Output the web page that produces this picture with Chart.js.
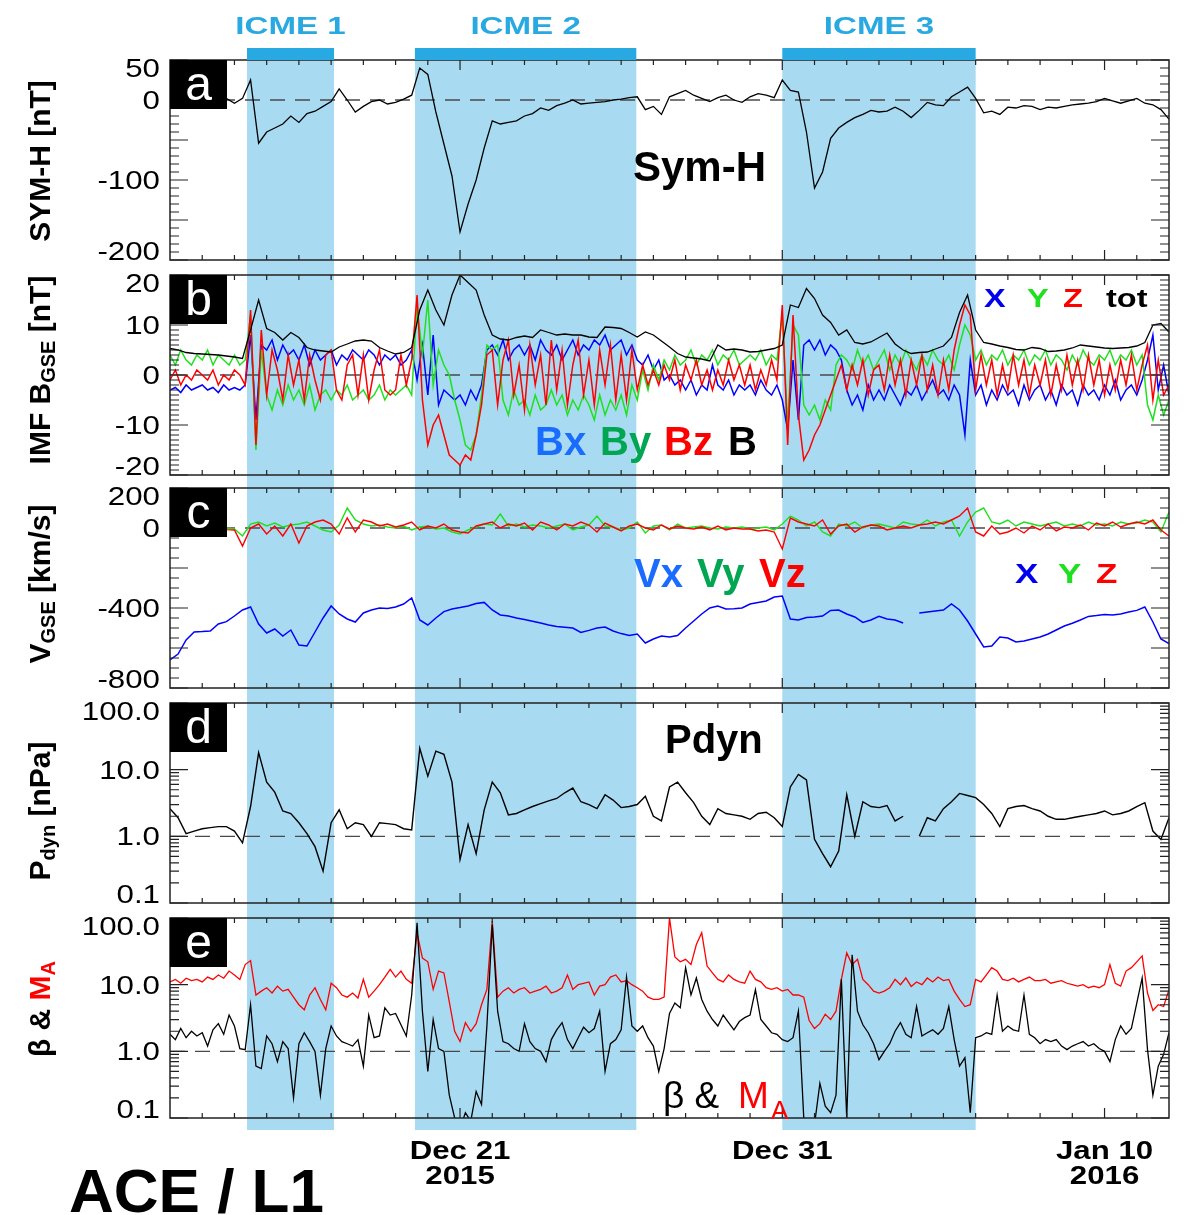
<!DOCTYPE html>
<html>
<head>
<meta charset="utf-8">
<title>ACE / L1</title>
<script src="https://cdn.jsdelivr.net/npm/chart.js@4.4.0/dist/chart.umd.min.js"></script>
<style>
  html, body { margin: 0; padding: 0; background: #fff; }
  #wrap { position: relative; width: 1184px; height: 1215px; overflow: hidden; }
  #wrap canvas { position: absolute; left: 0; }
</style>
</head>
<body>
<div id="wrap">
  <canvas id="pa" width="1184" height="267" style="top:0px"></canvas>
  <canvas id="pb" width="1184" height="214" style="top:267px"></canvas>
  <canvas id="pc" width="1184" height="215" style="top:481px"></canvas>
  <canvas id="pd" width="1184" height="213" style="top:696px"></canvas>
  <canvas id="pe" width="1184" height="306" style="top:909px"></canvas>
</div>
<script>
// x axis = days since 2015-12-12 00:00 (0 .. 31)
const icmeNames = ['ICME 1', 'ICME 2', 'ICME 3'];
const icmeStart = [2.39, 7.6, 19.0];
const icmeEnd = [5.09, 14.47, 25.0];

const dateTickDays = [9, 19, 29];
const dateTickLine1 = ['Dec 21', 'Dec 31', 'Jan 10'];
const dateTickLine2 = ['2015', '', '2016'];

// y tick labels per panel
const symTicks = [50, 0, -100, -200];
const bTicks = [20, 10, 0, -10, -20];
const vTicks = [200, 0, -400, -800];
const logTicks = [100, 10, 1, 0.1];
const logTickText = ['100.0', '10.0', '1.0', '0.1'];

// 6-hour grid (125 points) and 4-hour grid (187 points)
const t6 = Array.from({length: 125}, (_, i) => i * 0.25);
const t4 = Array.from({length: 187}, (_, i) => i / 6);

// panel a - SYM-H [nT], 6h
const symH = [2,3,1,4, 2,3,0,2, -4,2,25,-54, -40,-35,-30,-20, -28,-17,-14,-8, -2,14,0,-15,
  -8,-2,0,-5, -3,1,6,40, 32,-15,-55,-95, -165,-130,-100,-60, -26,-30,-28,-26, -20,-17,-10,-13,
  -7,-4,0,-5, -4,-3,-2,0, 1,3,4,-12, -8,-18,4,8, 12,6,2,-2, 3,6,0,-3, 4,8,6,3,
  25,12,10,-40, -110,-90,-48,-35, -28,-22,-18,-13, -15,-14,-9,-14, -22,-13,-3,-6, -7,4,10,16,
  2,-16,-14,-18, -9,-10,-7,-8, -12,-9,-10,-8, -6,-5,-4,-2, 2,-1,-4,-1, 2,-4,-6,-12, -24];

// panel b - IMF [nT]; total on 6h grid, components on 4h grid
const bTot = [5.3,5.0,4.5,4.3, 4.2,4.1,4.0,3.8, 3.6,3.3,9,15, 9.3,8.5,7,8.5, 7.5,5.5,5,4.8,
  4.6,5.6,6.2,6.8, 7,6.8,5.5,4.8, 4.2,4.5,5.5,13, 17,13,10,16, 20,18.5,17,12, 8,7.2,7,7.5,
  7.8,7.5,9,8.5, 8,8.2,8,8, 7.6,7.5,9.6,9.5, 9.3,8.5,7.6,8.6, 8,6.8,5.6,4.3, 3.6,3.4,3.2,2.8,
  6,5,5.2,5, 4.6,4.7,5,5.3, 6,14,13.5,17.3, 15.3,12,10.5,8, 9,6.5,6.2,6.6, 7.5,8.4,6.2,5,
  4.3,4.5,4.6,5.2, 5.8,7.5,12.5,16, 9,6.5,6.2,5.8, 5.5,5.1,5,5.5, 5.3,4.7,4.8,5,
  5.4,6,5.8,5.6, 5.4,5.3,5.4,5.5, 5.8,6.5,10,10.3, 8.6];
const bx = [
  -3,-2.5,-3.5,-2,-3,-2.5,  -2,-3,-2.5,-3.5,-2,-3,  -2.5,-3,-2,8,-9,6,  5,7,3,6,4,5,
  3,6,2,5,3,4,  5,2,4,3,5,4,  3,5,4,2,4,3,  4,2,3,5,-1,6,  -4,8,-6,-3,-4,-5,
  -4,-6,-3,-5,-2,5,  6,4,7,3,5,6,  4,6,3,7,5,4,  6,3,5,7,4,6,  5,7,6,8,5,6,
  7,4,6,3,2,4,  1,3,-1,0,-2,-1,  -3,-1,-4,-2,-3,2,  -2,-3,-1,-4,-2,-3,  -2,-4,-1,-3,-4,-2,
  -5,-11,3,-9,6,7,  5,7,4,6,5,3,  -3,-6,-4,-7,-2,-5,  -3,-5,-2,-4,-6,-3,  -4,-2,-5,-3,-1,-4,
  -3,-5,-2,-4,-12,3,  -4,-2,-6,-3,-5,-2,  -4,-3,-6,-2,-5,-3,  -2,-5,-3,-6,-2,-4,
  -3,-6,-2,-4,-3,-5,  -2,-4,-1,-5,-3,-2,  -4,-1,3,8,-3,2,  -4];
const by = [
  4,2,5,3,2,4,  3,5,2,4,3,2,  4,2,3,12,-15,5,  -4,-7,-3,-6,-2,-5,  -3,-6,-2,-7,-4,-3,
  -5,-3,-4,-2,-5,-4,  -3,-5,-4,-2,-5,-3,  -4,-3,-2,-4,14,4,  15,-2,5,2,0,-5,
  -9,-14,-15,-12,-4,6,  5,6,-5,-8,-3,-6,  -5,-8,-4,-7,-6,-3,  -6,-4,-8,-5,-7,-4,
  -6,-9,-4,-8,-5,-7,  -4,-8,-2,-5,1,-3,  2,-1,3,1,4,2,  3,5,2,4,3,5,  2,4,3,5,2,3,
  4,3,5,2,4,3,  12,-10,10,8,-6,-8,  -6,-9,-5,-7,2,4,  3,1,5,2,4,1,  3,5,1,4,2,5,
  3,1,4,2,5,3,  2,4,1,6,10,8,  3,5,2,4,3,5,  2,4,3,5,2,4,  3,5,2,4,3,1,
  4,2,5,3,2,4,  3,5,2,4,3,5,  2,4,-6,-9,-4,-8,  -5];
const bz = [
  -1,1,-2,0,-1,1,  0,-1,1,-2,0,-1,  1,0,-2,13,-14,9,  -4,5,1,-5,4,-2,  3,-5,4,-1,-5,4,
  5,-3,-5,2,4,-4,  4,-5,1,5,-3,-4,  -3,4,-2,3,16,-5,  -14,-10,-8,-12,-16,-17,
  -18,-16,-17,-12,-6,4,  5,-6,3,7,-4,2,  -7,6,-2,4,-6,7,  -3,5,-6,2,7,-4,
  3,-6,5,-2,6,-5,  4,-5,5,-3,2,-2,  1,-2,2,-1,3,-3,  2,-1,3,-2,1,-3,  1,-2,3,-1,2,-2,
  2,-3,1,-2,3,-1,  14,-14,12,-8,-17,-15,  -12,-10,-7,-4,-1,2,  -3,2,-2,3,-4,1,
  2,-3,4,-2,3,-4,  3,-2,4,-3,2,-4,  3,-3,5,10,14,12,  -3,4,-2,3,-4,2,  -3,4,-2,3,-4,2,
  -2,3,-4,2,-3,4,  -2,3,-3,4,-2,3,  -4,2,-3,3,-2,4,  -3,2,6,-5,3,-4,  -2];

// panel c - V GSE [km/s], 6h
const vx = [-660,-630,-560,-520, -518,-515,-480,-468, -440,-410,-395,-480, -525,-505,-540,-510,
  -585,-590,-520,-450, -390,-430,-455,-470, -425,-410,-400,-402, -395,-380,-350,-460,
  -485,-450,-418,-405, -398,-390,-378,-372, -410,-435,-440,-450, -458,-466,-475,-485,
  -492,-496,-500,-522, -512,-500,-495,-515, -528,-538,-530,-575, -555,-540,-545,-538,
  -500,-465,-430,-400, -390,-405,-404,-400, -380,-372,-365,-345, -340,-455,-460,-448,
  -445,-440,-412,-410, -430,-445,-472,-460, -442,-455,-460,-475, null,-425,-420,-415,
  -410,-380,-410,-465, -530,-595,-590,-545, -550,-570,-565,-555, -545,-530,-510,-490,
  -476,-460,-442,-438, -433,-435,-430,-420, -412,-395,-470,-555, -578];
const vy = [5,0,8,-3, 6,2,10,0, -5,-40,20,30, 10,25,5,15, 20,30,10,-10, -20,15,100,40,
  20,10,15,5, 0,10,-10,5, 10,-5,0,-20, -30,-10,5,20, 15,70,10,20, 5,15,10,0,
  10,20,-10,5, 15,60,10,5, -10,0,30,-25, 10,15,-10,20, 0,5,10,0, -5,5,0,5,
  -5,0,5,-10, 20,60,40,10, 30,-20,-40,20, 10,30,0,15, 20,10,0,30, 20,15,40,10,
  30,40,-40,30, 80,100,30,20, 40,10,30,20, 10,20,30,10, 20,10,30,15, 20,10,30,20,
  25,40,30,-20, 80];
const vz = [0,-5,3,-8, 0,-10,-5,-8, -10,-90,0,20, -30,10,-40,20, -75,10,30,40, 20,-30,50,-20,
  40,30,10,20, 5,15,30,-10, 10,0,20,-10, -20,-25,10,20, 30,0,20,10, 25,-10,30,15,
  -10,20,10,30, 15,-20,25,5, -15,10,20,0, -10,15,-5,10, 0,-5,5,-10, 10,-10,0,-5,
  -5,-15,-10,-20, -105,50,30,20, 10,40,-30,10, 20,-20,5,15, 10,-10,0,10, 0,15,20,30,
  20,40,60,100, -20,-40,10,-30, -20,0,-25,10, -10,20,-15,5, 0,15,-10,25, 10,30,5,20,
  30,20,40,-10, -40];

// panel d - Pdyn [nPa], 6h
const pdyn = [2.6,1.9,1.1,1.2, 1.3,1.35,1.4,1.4, 1.2,0.8,2.8,18, 6.5,4.6,2.4,2.2, 1.6,1.1,0.7,0.3,
  1.6,2.5,1.3,1.6, 1.5,1.0,1.6,1.55, 1.5,1.3,1.25,21, 8,19,17,6.5, 0.45,1.5,0.55,2.5,
  6.5,4.5,2.1,2.2, 2.5,2.8,3.1,3.4, 3.7,4.5,5.3,3.3, 3.0,2.6,4.2,3.5, 2.7,2.8,3.0,4.0,
  2.0,1.7,5.5,6.5, 4.5,3.2,2.0,1.5, 2.6,2.2,2.1,2.0, 1.8,2.2,2.3,1.9, 1.4,5.5,8.5,7.0,
  0.9,0.55,0.35,0.6, 4.2,1.0,3.3,2.8, 2.7,2.9,1.7,2.0, null,1.0,1.9,1.7, 2.6,3.3,4.4,4.1,
  3.8,3.0,2.2,1.4, 2.6,2.8,2.9,2.6, 2.4,2.0,1.8,1.8, 1.9,2.0,2.1,2.2, 2.4,2.1,2.2,2.4,
  2.8,3.2,1.2,0.9, 1.9];

// panel e - plasma beta and Alfven Mach number, 4h
const beta = [
  1.8,1.5,2.2,1.6,2.0,1.7,  1.9,1.2,2.1,2.6,1.8,3.5,  2.4,1.1,1.06,5,0.6,0.55,  1.7,1.3,0.7,1.4,1.1,0.2,
  1.3,1.9,1.4,1.0,0.22,1.1,  2.4,1.7,1.4,1.3,1.2,1.5,  0.6,3.5,1.6,1.7,4.5,3.5,  3.7,2.5,1.7,7,85,4,
  0.5,3,1.1,1.0,0.22,0.1,  0.07,0.12,0.09,0.25,0.16,2.4,  80,4,1.4,1.3,1.1,1.0,  2.6,1.4,1.1,1.0,0.7,1.5,
  2.1,2.7,1.5,1.1,1.6,2.3,  1.9,2.2,4,0.5,1.3,1.5,  2.1,13,2.4,2.0,2.4,1.6,  1.2,0.5,1.1,3.7,5.3,4.5,
  18,7,12.6,6,4,3,  2.4,3.5,2.7,2.1,2.8,3.2,  3.5,8.4,3,2.4,1.9,1.8,  1.5,1.4,1.6,4,0.1,0.06,
  0.08,0.33,0.15,0.12,0.22,12,  0.1,28,4,2.5,1.9,1.3,  0.75,1.0,1.3,2.0,2.7,1.8,  1.6,4.7,1.7,1.9,2.1,1.8,
  2.2,4.7,1.5,0.6,0.8,0.12,  1.6,1.7,1.9,1.8,7,2.0,  2.4,2.1,2.0,7,1.8,1.6,  1.3,1.5,1.4,1.5,1.2,1.06,
  1.2,1.3,1.4,1.2,1.3,1.1,  1.0,0.7,1.5,2.4,1.8,2.2,  5.3,12.6,1.06,0.22,0.6,0.9,  1.9];
const machA = [
  11,12,10.5,12.5,11.5,12,  11,13,12,14,12.5,16,  14,12,20,23,7,8,  9,7.5,9.5,8,8.5,6.5,
  5,4.2,7,9,6,4.2,  10.5,9,7,6.5,7.5,6.3,  12,6.5,8,10,13,17,  13,16,12,10.5,60,25,
  22,8.5,16,15,5.5,2,  1.4,2.7,2.0,2.6,5,8.5,  90,6.5,8,9,7.5,8.5,  9,7.5,8,8.5,9.5,7.5,
  8,9,14,8.5,10,10.5,  11,7,9.5,10,13,14,  11,11.5,10,9,8,6.5,  6,6,6.5,100,26,22,
  24,20,40,60,19,15,  12,11,14,12,11,10.5,  16,12,11,9,8.5,9,  8,8.5,7,7,6.5,2.9,
  2.2,2.6,3.6,3,4,12,  30,20,24,12,10,8,  7.5,8,9,12,10,12.6,  9.4,11,10,12.6,11,13,
  11.5,12,8,6,4.7,5,  12,11,14,18,16,12,  11.5,12.5,11,12,13,11.5,  11.5,12,10.5,11,11.5,10.5,
  10,9.5,10,9,9.5,9,  10,20,10.5,9.5,16,18,  22,27,7.5,4.1,5,4.7,  8.4];

const FONT = '"Liberation Sans", Arial, Helvetica, sans-serif';
const SHADE = 'rgb(168, 219, 241)';
const BAR = 'rgb(41, 169, 225)';
const FRAME = '#222';
const TITLE = 'bold 30px ' + FONT;
const TITLE_SUB = 'bold 20px ' + FONT;

const xy = (t, v) => v.map((y, i) => ({x: t[i], y: y}));

const range = (a, b, step) => {
    //ticks between a and b, inclusive
    const out = [];
    for (let v = a; v <= b + 1e-9; v += step) out.push(Math.round(v * 1000) / 1000);
    return out;
};
const logMinor = [0.2,0.3,0.4,0.5,0.6,0.7,0.8,0.9, 2,3,4,5,6,7,8,9, 20,30,40,50,60,70,80,90];

const drawText = (ctx, s, x, y, font, color, align, sx) => {
    /*
        Draws a text with an optional horizontal stretch
    */
    sx = sx || 1;
    ctx.save();
    ctx.font = font;
    ctx.fillStyle = color || '#000';
    ctx.textBaseline = 'alphabetic';
    ctx.textAlign = 'left';
    const w = ctx.measureText(s).width * sx;
    let x0 = x;
    if (align === 'center') x0 = x - w / 2;
    if (align === 'right') x0 = x - w;
    ctx.translate(x0, y);
    ctx.scale(sx, 1);
    ctx.fillText(s, 0, 0);
    ctx.restore();
};

const drawVTitle = (ctx, segs, cx, cy) => {
    //rotated axis title built from pieces (for subscripts and colours)
    let total = 0;
    segs.forEach((s) => { ctx.font = s.font; s.w = ctx.measureText(s.t).width; total += s.w; });
    ctx.save();
    ctx.translate(cx, cy);
    ctx.rotate(-Math.PI / 2);
    ctx.textBaseline = 'alphabetic';
    let x = -total / 2;
    segs.forEach((s) => {
        ctx.font = s.font;
        ctx.fillStyle = s.color || '#000';
        ctx.fillText(s.t, x, s.dy || 0);
        x += s.w;
    });
    ctx.restore();
};

const PANEL_CFG = {
    pa: {top: 0, padTop: 60, padBottom: 7, letter: 'a', ref: 0, shadeFromArea: true, icme: true,
         major: range(-200, 50, 50), minor: range(-200, 50, 10),
         labels: symTicks.map((v) => [v, String(v)]),
         title: [{t: 'SYM-H [nT]', font: TITLE}], titleY: 161,
         notes: [{t: 'Sym-H', x: 633, y: 181, font: 'bold 42px ' + FONT}]},
    pb: {top: 267, padTop: 8, padBottom: 6, letter: 'b', ref: 0,
         major: range(-20, 20, 10), minor: range(-20, 20, 1),
         labels: bTicks.map((v) => [v, String(v)]),
         title: [{t: 'IMF B', font: TITLE}, {t: 'GSE', font: TITLE_SUB, dy: 5}, {t: ' [nT]', font: TITLE}], titleY: 370,
         notes: [
             {t: 'Bx', x: 535, y: 455, font: 'bold 40px ' + FONT, color: '#1a6cff'},
             {t: 'By', x: 600, y: 455, font: 'bold 40px ' + FONT, color: '#00a651'},
             {t: 'Bz', x: 664, y: 455, font: 'bold 40px ' + FONT, color: '#ff0000'},
             {t: 'B', x: 728, y: 455, font: 'bold 40px ' + FONT, color: '#000'},
             {t: 'X', x: 984, y: 307, font: 'bold 25px ' + FONT, color: '#0000ee', sx: 1.3},
             {t: 'Y', x: 1027, y: 307, font: 'bold 25px ' + FONT, color: '#1fe01f', sx: 1.3},
             {t: 'Z', x: 1063, y: 307, font: 'bold 25px ' + FONT, color: '#ff0000', sx: 1.3},
             {t: 'tot', x: 1106, y: 307, font: 'bold 25px ' + FONT, color: '#000', sx: 1.3}]},
    pc: {top: 481, padTop: 7, padBottom: 8, letter: 'c', ref: 0,
         major: range(-800, 200, 200), minor: range(-800, 200, 50),
         labels: vTicks.map((v) => [v, String(v)]),
         title: [{t: 'V', font: TITLE}, {t: 'GSE', font: TITLE_SUB, dy: 5}, {t: ' [km/s]', font: TITLE}], titleY: 584,
         notes: [
             {t: 'Vx', x: 634, y: 587, font: 'bold 40px ' + FONT, color: '#1a6cff'},
             {t: 'Vy', x: 697, y: 587, font: 'bold 40px ' + FONT, color: '#00a651'},
             {t: 'Vz', x: 759, y: 587, font: 'bold 40px ' + FONT, color: '#ff0000'},
             {t: 'X', x: 1015, y: 583, font: 'bold 28px ' + FONT, color: '#0000ee', sx: 1.25},
             {t: 'Y', x: 1058, y: 583, font: 'bold 28px ' + FONT, color: '#1fe01f', sx: 1.25},
             {t: 'Z', x: 1096, y: 583, font: 'bold 28px ' + FONT, color: '#ff0000', sx: 1.25}]},
    pd: {top: 696, padTop: 7, padBottom: 6, letter: 'd', ref: 1,
         major: logTicks, minor: logMinor,
         labels: logTicks.map((v, i) => [v, logTickText[i]]),
         title: [{t: 'P', font: TITLE}, {t: 'dyn', font: TITLE_SUB, dy: 5}, {t: ' [nPa]', font: TITLE}], titleY: 811,
         notes: [{t: 'Pdyn', x: 665, y: 753, font: 'bold 40px ' + FONT}]},
    pe: {top: 909, padTop: 9, padBottom: 97, letter: 'e', ref: 1, shadeExtra: 12, bottomAxis: true,
         major: logTicks, minor: logMinor,
         labels: logTicks.map((v, i) => [v, logTickText[i]]),
         title: [{t: 'β & ', font: TITLE}, {t: 'M', font: TITLE, color: '#ff0000'}, {t: 'A', font: TITLE_SUB, dy: 5, color: '#ff0000'}], titleY: 1009,
         notes: [
             {t: 'β &', x: 663, y: 1108, font: '37px ' + FONT},
             {t: 'M', x: 738, y: 1108, font: '37px ' + FONT, color: '#ff0000'},
             {t: 'A', x: 771, y: 1119, font: '26px ' + FONT, color: '#ff0000'}]}
};

const panelDeco = {
    id: 'panelDeco',
    beforeDatasetsDraw: (chart) => {
        /*
            ICME shading and the dashed reference line, under the data
        */
        const p = PANEL_CFG[chart.canvas.id];
        const ctx = chart.ctx, xs = chart.scales.x, ys = chart.scales.y, ca = chart.chartArea;
        const y0 = p.shadeFromArea ? ca.top : 0;
        const y1 = p.shadeExtra != null ? ca.bottom + p.shadeExtra : chart.height;
        ctx.save();
        ctx.fillStyle = SHADE;
        icmeStart.forEach((s, i) => {
            const a = xs.getPixelForValue(s), b = xs.getPixelForValue(icmeEnd[i]);
            ctx.fillRect(a, y0, b - a, y1 - y0);
        });
        const yr = ys.getPixelForValue(p.ref);
        ctx.strokeStyle = '#4a4a4a';
        ctx.lineWidth = 1.3;
        ctx.setLineDash([15, 10]);
        ctx.beginPath();
        ctx.moveTo(ca.left, yr);
        ctx.lineTo(ca.right, yr);
        ctx.stroke();
        ctx.restore();
    },
    afterDraw: (chart) => {
        /*
            Frame, inward ticks, tick labels, panel letter and annotations
        */
        const p = PANEL_CFG[chart.canvas.id];
        const ctx = chart.ctx, xs = chart.scales.x, ys = chart.scales.y, ca = chart.chartArea;
        ctx.save();
        ctx.strokeStyle = FRAME;
        ctx.lineWidth = 1.5;
        ctx.strokeRect(ca.left, ca.top, ca.right - ca.left, ca.bottom - ca.top);
        ctx.lineWidth = 1.2;
        ctx.beginPath();
        for (let d = 1; d < 31; d++) {
            const px = xs.getPixelForValue(d);
            const len = dateTickDays.includes(d) ? 10 : 5;
            ctx.moveTo(px, ca.top); ctx.lineTo(px, ca.top + len);
            ctx.moveTo(px, ca.bottom); ctx.lineTo(px, ca.bottom - len);
        }
        const yTick = (v, len) => {
            const py = ys.getPixelForValue(v);
            if (py < ca.top - 0.5 || py > ca.bottom + 0.5) return;
            ctx.moveTo(ca.left, py); ctx.lineTo(ca.left + len, py);
            ctx.moveTo(ca.right, py); ctx.lineTo(ca.right - len, py);
        };
        p.minor.forEach((v) => yTick(v, 9));
        p.major.forEach((v) => yTick(v, 18));
        ctx.stroke();
        ctx.restore();

        //tick labels, the end ones pulled inside the frame
        p.labels.forEach(([v, text]) => {
            let py = ys.getPixelForValue(v);
            py = Math.max(ca.top + 8, Math.min(ca.bottom - 9, py));
            drawText(ctx, text, ca.left - 10, py + 9, '25px ' + FONT, '#000', 'right', 1.25);
        });

        //panel letter box
        ctx.save();
        ctx.fillStyle = '#000';
        ctx.fillRect(ca.left, ca.top, 57, 49);
        ctx.restore();
        drawText(ctx, p.letter, ca.left + 28.5, ca.top + 40, '48px ' + FONT, '#fff', 'center');

        drawVTitle(ctx, p.title, 50, p.titleY - p.top);
        p.notes.forEach((n) => drawText(ctx, n.t, n.x, n.y - p.top, n.font, n.color || '#000', 'left', n.sx));

        if (p.icme) {
            ctx.save();
            ctx.fillStyle = BAR;
            icmeStart.forEach((s, i) => {
                const a = xs.getPixelForValue(s), b = xs.getPixelForValue(icmeEnd[i]);
                ctx.fillRect(a, ca.top - 12, b - a, 12);
                drawText(ctx, icmeNames[i], (a + b) / 2, 34, 'bold 24px ' + FONT, BAR, 'center', 1.38);
            });
            ctx.restore();
        }
        if (p.bottomAxis) {
            dateTickDays.forEach((d, i) => {
                const px = xs.getPixelForValue(d);
                drawText(ctx, dateTickLine1[i], px, ca.bottom + 41, 'bold 26px ' + FONT, '#000', 'center', 1.2);
                if (dateTickLine2[i]) drawText(ctx, dateTickLine2[i], px, ca.bottom + 66, 'bold 26px ' + FONT, '#000', 'center', 1.2);
            });
            drawText(ctx, 'ACE / L1', 69, 303, 'bold 62px ' + FONT, '#000', 'left');
        }
    }
};

const makeChart = (id, datasets, yScale) => {
    /*
        One stacked panel; all panels share the same x range and plot left edge
    */
    const p = PANEL_CFG[id];
    return new Chart(document.getElementById(id), {
        type: 'line',
        data: {datasets: datasets},
        options: {
            responsive: false,
            animation: false,
            devicePixelRatio: 1,
            layout: {padding: {left: 0, right: 15, top: p.padTop, bottom: p.padBottom}},
            plugins: {legend: {display: false}, tooltip: {enabled: false}},
            elements: {point: {radius: 0}, line: {borderWidth: 1.3, tension: 0}},
            scales: {
                x: {type: 'linear', min: 0, max: 31, display: false},
                y: Object.assign({
                    position: 'left',
                    ticks: {display: false},
                    grid: {display: false},
                    border: {display: false},
                    afterFit: (s) => { s.width = 170; }
                }, yScale)
            }
        },
        plugins: [panelDeco]
    });
};

const line = (t, v, color, order, width) => ({
    data: xy(t, v), borderColor: color, order: order, borderWidth: width || 1.3, spanGaps: false
});

makeChart('pa', [line(t6, symH, '#000', 0)], {type: 'linear', min: -200, max: 50});
makeChart('pb', [
    line(t6, bTot, '#000', 0),
    line(t4, bz, '#ff0000', 1, 1.5),
    line(t4, by, '#1fe01f', 2, 1.5),
    line(t4, bx, '#0000ff', 3, 1.5)
], {type: 'linear', min: -20, max: 20});
makeChart('pc', [
    line(t6, vz, '#ff0000', 0, 1.4),
    line(t6, vy, '#1fe01f', 1, 1.4),
    line(t6, vx, '#0000ff', 2, 1.5)
], {type: 'linear', min: -800, max: 200});
makeChart('pd', [line(t6, pdyn, '#000', 0, 1.4)], {type: 'logarithmic', min: 0.1, max: 100});
makeChart('pe', [
    line(t4, beta, '#000', 0),
    line(t4, machA, '#ff0000', 1)
], {type: 'logarithmic', min: 0.1, max: 100});
</script>
</body>
</html>
